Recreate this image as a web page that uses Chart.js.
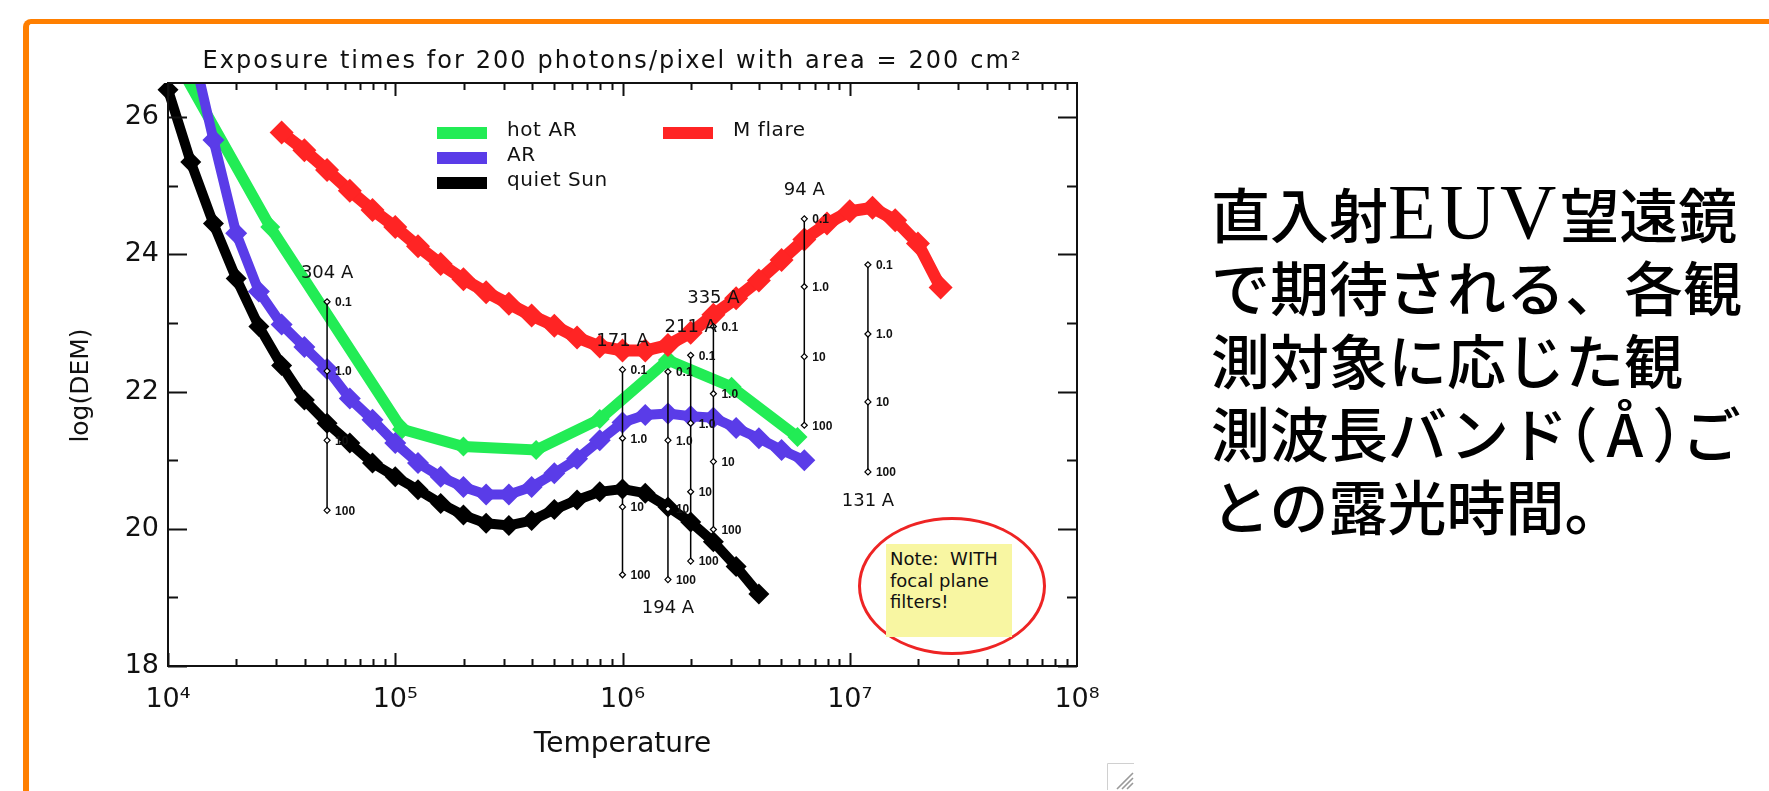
<!DOCTYPE html>
<html>
<head>
<meta charset="utf-8">
<script src="https://cdn.jsdelivr.net/npm/chart.js@4.4.0/dist/chart.umd.min.js"></script>
<style>
  html, body { margin: 0; padding: 0; background: #fff; width: 1769px; height: 791px; overflow: hidden; }
  #frame { position: absolute; left: 23px; top: 19px; width: 1800px; height: 900px;
           border-left: 6px solid #ff7f00; border-top: 5px solid #ff7f00; border-top-left-radius: 8px; }
  #wrap { position: absolute; left: 0; top: 0; width: 1164px; height: 791px; }
  #ring { position: absolute; left: 858px; top: 517px; width: 188px; height: 138px; box-sizing: border-box;
          border: 3px solid #ee2424; border-radius: 50%; }
  #note { position: absolute; left: 886px; top: 544px; width: 126px; height: 93px; box-sizing: border-box;
          padding: 4px 0 0 4px; background: #f8f6a2; color: #111;
          font: 18px "DejaVu Sans", sans-serif; line-height: 21.5px; white-space: nowrap; }
  #jp { position: absolute; left: 1211px; top: 175px; font-family: "Noto Sans CJK JP", sans-serif;
        font-weight: 500; font-size: 59px; line-height: 73px; color: #000; white-space: nowrap; }
  #jp .lat { font-family: "Liberation Serif", serif; font-weight: 400; font-size: 78px; letter-spacing: 4px; }
  #jp .par { font-feature-settings: "halt"; }
  #jp .ang { margin: 0 9px; }
  #grip { position: absolute; left: 1107px; top: 763px; }
</style>
</head>
<body>
<div id="wrap"><canvas id="c" width="1164" height="791"></canvas></div>
<div id="frame"></div>
<div id="ring"></div>
<div id="note">Note:&nbsp; WITH<br>focal plane<br>filters!</div>
<div id="jp">直入射<span class="lat">EUV</span>望遠鏡<br>で期待される、各観<br>測対象に応じた観<br>測波長バンド<span class="par">（<span class="ang">Å</span>）</span>ご<br>との露光時間。</div>
<svg id="grip" width="28" height="28" viewBox="0 0 28 28">
  <path d="M0.5 27 V0.5 H27" fill="none" stroke="#d0d0d0" stroke-width="1"/>
  <path d="M10 26 L26 10 M15 26 L26 15 M20 26 L26 20" stroke="#9a9a9a" stroke-width="1.6"/>
</svg>
<script>
// Emission measure distributions, log10 T (K) vs log10 DEM
const quietSunLogT = [4.0, 4.1, 4.2, 4.3, 4.4, 4.5, 4.6, 4.7, 4.8, 4.9, 5.0, 5.1, 5.2, 5.3, 5.4,
                      5.5, 5.6, 5.7, 5.8, 5.9, 6.0, 6.1, 6.2, 6.3, 6.4, 6.5, 6.6];
const quietSunDEM  = [26.40, 25.35, 24.45, 23.65, 22.95, 22.38, 21.88, 21.54, 21.25, 20.96, 20.76, 20.57, 20.37, 20.20, 20.08,
                      20.05, 20.12, 20.28, 20.42, 20.54, 20.58, 20.52, 20.32, 20.10, 19.81, 19.45, 19.05];

const activeRegionLogT = [4.1, 4.2, 4.3, 4.4, 4.5, 4.6, 4.7, 4.8, 4.9, 5.0, 5.1, 5.2, 5.3, 5.4,
                          5.5, 5.6, 5.7, 5.8, 5.9, 6.0, 6.1, 6.2, 6.3, 6.4, 6.5, 6.6, 6.7, 6.8];
const activeRegionDEM  = [27.10, 25.67, 24.31, 23.46, 22.98, 22.65, 22.33, 21.90, 21.59, 21.25, 20.96, 20.76, 20.61, 20.50,
                          20.50, 20.61, 20.81, 21.02, 21.29, 21.55, 21.66, 21.68, 21.64, 21.62, 21.47, 21.32, 21.15, 21.00];

const hotARLogT = [4.0, 4.45, 5.03, 5.30, 5.62, 5.90, 6.20, 6.48, 6.77];
const hotARDEM  = [27.05, 24.40, 21.45, 21.20, 21.15, 21.60, 22.46, 22.07, 21.34];

const mFlareLogT = [4.5, 4.6, 4.7, 4.8, 4.9, 5.0, 5.1, 5.2, 5.3, 5.4, 5.5, 5.6, 5.7, 5.8, 5.9,
                    6.0, 6.1, 6.2, 6.3, 6.4, 6.5, 6.6, 6.7, 6.8, 6.9, 7.0, 7.1, 7.2, 7.3, 7.4];
const mFlareDEM  = [25.78, 25.52, 25.23, 24.93, 24.65, 24.40, 24.12, 23.86, 23.64, 23.45, 23.28, 23.11, 22.96, 22.79, 22.66,
                    22.60, 22.60, 22.68, 22.86, 23.12, 23.36, 23.62, 23.92, 24.22, 24.45, 24.63, 24.68, 24.50, 24.16, 23.52];

// EUV channels: peak temperature and the DEM reached for each exposure time
const channelNames = ['304 A', '171 A', '194 A', '211 A', '335 A', '94 A', '131 A'];
const channelLogT  = [4.70, 6.00, 6.20, 6.30, 6.40, 6.80, 7.08];
const exposureLabels = ['0.1', '1.0', '10', '100'];
const demAt01s  = [23.31, 22.32, 22.29, 22.53, 22.95, 24.52, 23.85];
const demAt1s   = [22.30, 21.32, 21.29, 21.54, 21.97, 23.53, 22.84];
const demAt10s  = [21.29, 20.32, 20.29, 20.54, 20.98, 22.51, 21.85];
const demAt100s = [20.27, 19.33, 19.26, 19.53, 19.99, 21.51, 20.83];

// Axis ticks
const xTickValues = [1e4, 1e5, 1e6, 1e7, 1e8];
const xTickLabels = ['10⁴', '10⁵', '10⁶', '10⁷', '10⁸'];
const yTickValues = [18, 20, 22, 24, 26];

const chartTitle = 'Exposure times for 200 photons/pixel with area = 200 cm²';
const yTitle = 'log(DEM)';

const toPoints = (logT, dem) => logT.map((t, i) => ({ x: Math.pow(10, t), y: dem[i] }));

function curve(label, logT, dem, color, width, radius, order) {
  return {
    label, data: toPoints(logT, dem), order,
    borderColor: color, backgroundColor: color, borderWidth: width,
    pointStyle: 'rectRot', pointRadius: radius, pointBackgroundColor: color, pointBorderWidth: 0,
    tension: 0, clip: { left: 12, top: 0, right: 0, bottom: 0 }
  };
}

const datasets = [
  curve('hot AR', hotARLogT, hotARDEM, '#22ec55', 11, 10, 14),
  curve('AR', activeRegionLogT, activeRegionDEM, '#5a3ce8', 10, 11, 13),
  curve('quiet Sun', quietSunLogT, quietSunDEM, '#000000', 10, 10.5, 12),
  curve('M flare', mFlareLogT, mFlareDEM, '#ff2424', 12, 12, 11)
];

channelNames.forEach((name, i) => {
  const t = Math.pow(10, channelLogT[i]);
  datasets.push({
    label: name, order: 1, isChannel: true,
    data: [demAt01s[i], demAt1s[i], demAt10s[i], demAt100s[i]].map(v => ({ x: t, y: v })),
    borderColor: '#000', borderWidth: 1.5, tension: 0,
    pointStyle: 'rectRot', pointRadius: 3, pointBackgroundColor: '#fff',
    pointBorderColor: '#000', pointBorderWidth: 1.2, clip: false
  });
});

// channel names sitting below their bar rather than above it
const labelsBelow = new Set(['194 A', '131 A']);

const decor = {
  id: 'decor',
  afterDatasetsDraw(chart) {
    const { ctx, chartArea: a, scales: { x, y } } = chart;
    ctx.save();

    // plot box with inward ticks on all four sides
    ctx.strokeStyle = '#111';
    ctx.lineWidth = 2;
    ctx.strokeRect(a.left, a.top, a.right - a.left, a.bottom - a.top);
    ctx.beginPath();
    for (let d = 4; d < 8; d++) {
      for (let m = 1; m <= 9; m++) {
        const px = Math.round(x.getPixelForValue(m * Math.pow(10, d))) + 0.5;
        const len = m === 1 ? 13 : 7;
        ctx.moveTo(px, a.bottom); ctx.lineTo(px, a.bottom - len);
        ctx.moveTo(px, a.top); ctx.lineTo(px, a.top + len);
      }
    }
    for (let v = 18; v <= 26; v++) {
      const py = Math.round(y.getPixelForValue(v)) + 0.5;
      const len = v % 2 === 0 ? 19 : 10;
      ctx.moveTo(a.left, py); ctx.lineTo(a.left + len, py);
      ctx.moveTo(a.right, py); ctx.lineTo(a.right - len, py);
    }
    ctx.stroke();

    // title
    ctx.fillStyle = '#111';
    ctx.font = '24px "DejaVu Sans"';
    ctx.textAlign = 'center';
    ctx.textBaseline = 'middle';
    spaced(ctx, chartTitle, (a.left + a.right) / 2 - 10, 62, 818);

    // vertical axis title
    ctx.save();
    ctx.translate(a.left - 87, (a.top + a.bottom) / 2 + 11);
    ctx.rotate(-Math.PI / 2);
    ctx.font = '25px "DejaVu Sans"';
    ctx.fillText(yTitle, 0, 0);
    ctx.restore();

    // legend
    const ds = chart.data.datasets;
    const items = [
      [ds[0], a.left + 269, a.top + 50],
      [ds[1], a.left + 269, a.top + 75],
      [ds[2], a.left + 269, a.top + 100],
      [ds[3], a.left + 495, a.top + 50]
    ];
    ctx.font = '20px "DejaVu Sans"';
    ctx.textAlign = 'left';
    items.forEach(([d, lx, ly]) => {
      ctx.fillStyle = d.borderColor;
      ctx.fillRect(lx, ly - 6, 50, 12);
      ctx.fillStyle = '#111';
      ctx.letterSpacing = '0.6px';
      ctx.fillText(d.label, lx + 70, ly - 2);
      ctx.letterSpacing = '0px';
    });

    // channel names and exposure-time marks
    chart.data.datasets.forEach((d, i) => {
      if (!d.isChannel) return;
      const pts = chart.getDatasetMeta(i).data;
      ctx.font = 'bold 12px "Liberation Sans"';
      ctx.textAlign = 'left';
      ctx.fillStyle = '#111';
      pts.forEach((p, k) => ctx.fillText(exposureLabels[k], p.x + 8, p.y + 1));
      ctx.font = '18px "DejaVu Sans"';
      ctx.textAlign = 'center';
      if (labelsBelow.has(d.label)) ctx.fillText(d.label, pts[0].x, pts[3].y + 29);
      else ctx.fillText(d.label, pts[0].x, pts[0].y - 28);
    });
    ctx.restore();
  }
};

function spaced(ctx, text, cx, cy, width) {
  ctx.letterSpacing = '0px';
  const w = ctx.measureText(text).width;
  const n = [...text].length;
  ctx.letterSpacing = ((width - w) / (n - 1)).toFixed(2) + 'px';
  ctx.fillText(text, cx, cy);
  ctx.letterSpacing = '0px';
}

const zeroPad = s => { s.paddingLeft = 0; s.paddingRight = 0; s.paddingTop = 0; s.paddingBottom = 0; };

new Chart(document.getElementById('c'), {
  type: 'line',
  data: { datasets },
  plugins: [decor],
  options: {
    responsive: false,
    devicePixelRatio: 1,
    animation: false,
    events: [],
    layout: { padding: { left: 58, right: 87, top: 83, bottom: 0 } },
    plugins: { legend: { display: false }, title: { display: false }, tooltip: { enabled: false } },
    scales: {
      x: {
        type: 'logarithmic', min: 1e4, max: 1e8,
        afterBuildTicks: s => { s.ticks = xTickValues.map(v => ({ value: v })); },
        afterFit: s => { s.height = 125; zeroPad(s); },
        ticks: {
          callback: (v, i) => xTickLabels[i], autoSkip: false, maxRotation: 0,
          font: { family: 'DejaVu Sans', size: 27 }, color: '#111', padding: 18
        },
        grid: { display: false, drawTicks: false },
        border: { display: false },
        title: { display: true, text: 'Temperature', color: '#111',
                 font: { family: 'DejaVu Sans', size: 28 }, padding: { top: 0, bottom: 29 } }
      },
      y: {
        type: 'linear', min: 18, max: 26.5,
        afterBuildTicks: s => { s.ticks = yTickValues.map(v => ({ value: v })); },
        afterFit: s => { s.width = 110; zeroPad(s); },
        ticks: { font: { family: 'DejaVu Sans', size: 27 }, color: '#111', padding: 9 },
        grid: { display: false, drawTicks: false },
        border: { display: false },
        title: { display: false }
      }
    }
  }
});
</script>
</body>
</html>
